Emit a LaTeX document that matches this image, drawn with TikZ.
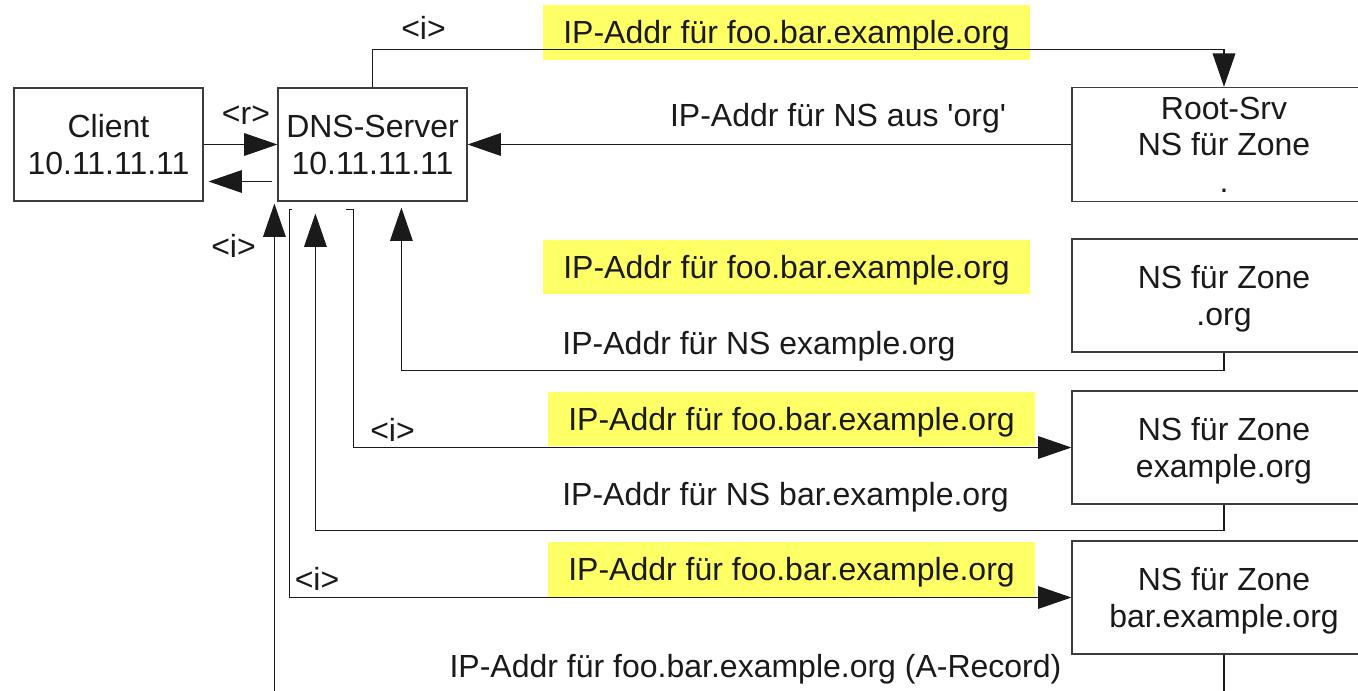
\documentclass[tikz,border=0pt]{standalone}
\usepackage{fontspec}
\setmainfont{Liberation Sans}[Ligatures=TeXOff]
\usetikzlibrary{arrows.meta,calc}
\definecolor{hlyellow}{RGB}{255,255,102}
\definecolor{ink}{RGB}{26,26,26}
\definecolor{frame}{RGB}{60,60,60}
% struts that centre the cap height of a text block in its box
\newcommand\topstrut{\rule{0pt}{1em}}
\newcommand\botstrut{\rule[-0.284em]{0pt}{0.284em}}

\begin{document}
\begin{tikzpicture}[x=0.75pt,y=-0.75pt,
  every node/.style={font=\fontsize{24pt}{27.4pt}\selectfont, text=ink},
  hostbox/.style={draw=frame, line width=0.9pt, fill=white, inner sep=0pt,
                  align=center, minimum height=84.75pt},
  smallbox/.style={hostbox, minimum width=141.75pt},
  widebox/.style={hostbox, minimum width=228pt},
  query/.style={fill=hlyellow, inner sep=0pt, minimum width=365.25pt,
                minimum height=41pt, text height=24pt, text depth=6.8pt},
  lbl/.style={anchor=base, inner sep=0pt},
  flow/.style={draw=ink, line width=0.8pt, -{Triangle[length=25pt,width=17pt]}},
]
\useasboundingbox (0,0) rectangle (1358,691);
\clip (0,0) rectangle (1358,691);
\fill[white] (0,0) rectangle (1358,691);

% hosts
\node[smallbox] (client) at (108.5,144.5) {\topstrut Client\\10.11.11.11\botstrut};
\node[smallbox] (dns)    at (372.5,144.5) {\topstrut DNS-Server\\10.11.11.11\botstrut};
\node[widebox]  (root)   at (1224,144.5)  {\topstrut Root-Srv\\NS für Zone\\.\botstrut};
\node[widebox]  (org)    at (1224,295.5)  {\topstrut NS für Zone\\.org\botstrut};
\node[widebox]  (exorg)  at (1224,447.5)  {\topstrut NS für Zone\\example.org\botstrut};
\node[widebox]  (bar)    at (1224,597.5)  {\topstrut NS für Zone\\bar.example.org\botstrut};

% queried name
\node[query] (q1) at (786.5,32.5) {IP-Addr für foo.bar.example.org};
\node[query] (q2) at (786.5,267)  {IP-Addr für foo.bar.example.org};
\node[query] (q3) at (791.5,419)  {IP-Addr für foo.bar.example.org};
\node[query] (q4) at (791.5,569.5) {IP-Addr für foo.bar.example.org};

% answers and request types
\node[lbl] (a1) at (838,127) {IP-Addr für NS aus 'org'};
\node[lbl] (a2) at (759,354) {IP-Addr für NS example.org};
\node[lbl] (a3) at (785.5,505) {IP-Addr für NS bar.example.org};
\node[lbl] (a4) at (755.5,677) {IP-Addr für foo.bar.example.org (A-Record)};
\node[lbl] (r0) at (246,125) {<r>};
\node[lbl] (i1) at (423.5,40) {<i>};
\node[lbl] (i0) at (233.5,258) {<i>};
\node[lbl] (i3) at (392.5,441) {<i>};
\node[lbl] (i4) at (317,590) {<i>};

% client <-> resolver
\draw[flow] (client.east) -- (dns.west);
\draw[flow] ($(dns.west)+(-5,37)$) -- ($(client.east)+(5,37)$);

% iterative queries and referrals
\draw[flow] (dns.north) -- ++(0,-38) -| (root.north);
\draw[flow] (root.west) -- (dns.east);
\draw[flow] (org.south) -- ++(0,18) -| ($(dns.south west)+(124,6)$);
\draw[flow] ($(dns.south west)+(69,8)$) -- ++(7,0) |- (exorg.west);
\draw[flow] (exorg.south) -- ++(0,26) -| ($(dns.south west)+(38,12)$);
\draw[flow] ($(dns.south west)+(15,8)$) -- ++(-3,0) |- (bar.west);
\draw[flow] (bar.south) -- ++(0,80) -| ($(dns.south west)+(-3,2)$);
\end{tikzpicture}
\end{document}
